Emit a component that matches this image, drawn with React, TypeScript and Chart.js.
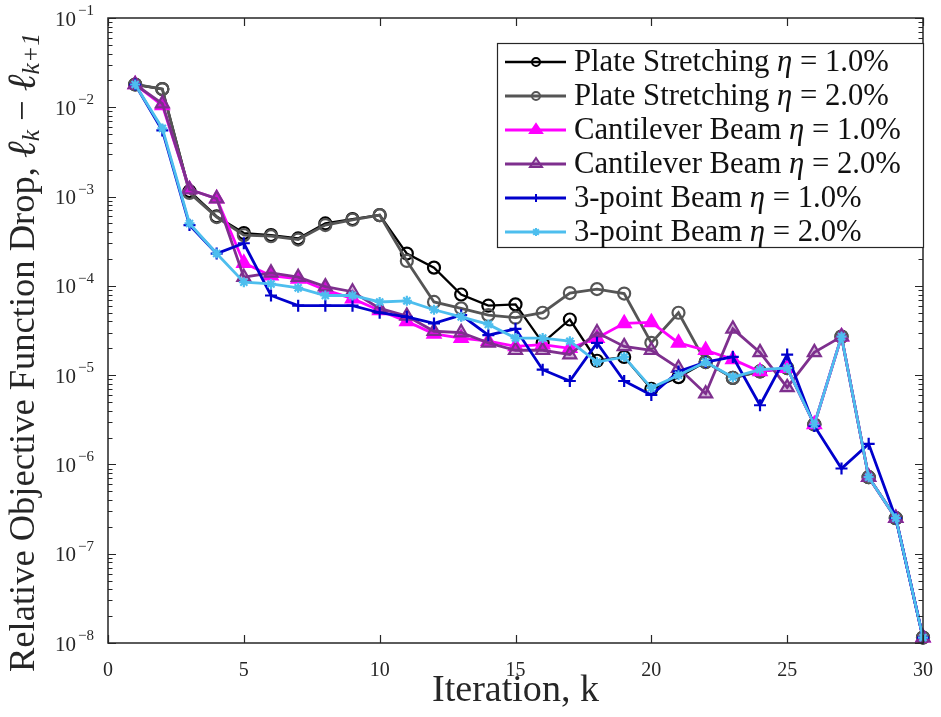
import React, { useEffect, useRef } from 'react';
import { Chart, registerables } from 'chart.js';

Chart.register(...registerables);

// ---------- data ----------
const iterations = [1, 2, 3, 4, 5, 6, 7, 8, 9, 10, 11, 12, 13, 14, 15, 16, 17, 18, 19, 20, 21, 22, 23, 24, 25, 26, 27, 28, 29, 30];

const plate1 = [1.8e-2, 1.6e-2, 1.15e-3, 6.0e-4, 3.9e-4, 3.7e-4, 3.4e-4, 5.0e-4, 5.6e-4, 6.2e-4, 2.3e-4, 1.6e-4, 8.0e-5, 6.0e-5, 6.2e-5, 2.3e-5, 4.2e-5, 1.45e-5, 1.6e-5, 7.0e-6, 9.5e-6, 1.4e-5, 9.3e-6, 1.1e-5, 1.2e-5, 2.8e-6, 2.7e-5, 7.2e-7, 2.5e-7, 1.15e-8];
const plate2 = [1.8e-2, 1.6e-2, 1.1e-3, 5.9e-4, 3.7e-4, 3.6e-4, 3.3e-4, 4.8e-4, 5.5e-4, 6.2e-4, 1.9e-4, 6.6e-5, 5.6e-5, 4.7e-5, 4.4e-5, 5.0e-5, 8.3e-5, 9.2e-5, 8.2e-5, 2.3e-5, 5.0e-5, 1.4e-5, 9.3e-6, 1.1e-5, 1.2e-5, 2.8e-6, 2.7e-5, 7.2e-7, 2.5e-7, 1.15e-8];
const cant1 = [1.8e-2, 1.05e-2, 1.2e-3, 9.5e-4, 1.8e-4, 1.3e-4, 1.2e-4, 9.0e-5, 7.2e-5, 5.3e-5, 4.0e-5, 2.9e-5, 2.6e-5, 2.4e-5, 2.1e-5, 2.2e-5, 2.0e-5, 2.6e-5, 3.8e-5, 3.9e-5, 2.3e-5, 1.9e-5, 1.5e-5, 1.1e-5, 1.2e-5, 2.8e-6, 2.7e-5, 7.2e-7, 2.5e-7, 1.15e-8];
const cant2 = [1.8e-2, 1.1e-2, 1.2e-3, 9.5e-4, 1.25e-4, 1.4e-4, 1.25e-4, 9.8e-5, 8.6e-5, 5.6e-5, 4.6e-5, 3.1e-5, 3.0e-5, 2.3e-5, 1.9e-5, 1.9e-5, 1.7e-5, 3.0e-5, 2.1e-5, 1.9e-5, 1.2e-5, 6.2e-6, 3.3e-5, 1.8e-5, 7.3e-6, 1.8e-5, 2.7e-5, 7.2e-7, 2.5e-7, 1.15e-8];
const beam1 = [1.8e-2, 5.5e-3, 4.8e-4, 2.3e-4, 3.0e-4, 7.8e-5, 6.0e-5, 6.0e-5, 6.0e-5, 5.0e-5, 4.5e-5, 3.8e-5, 4.7e-5, 2.8e-5, 3.3e-5, 1.15e-5, 8.6e-6, 2.3e-5, 8.6e-6, 6.0e-6, 1.1e-5, 1.4e-5, 1.6e-5, 4.6e-6, 1.7e-5, 2.7e-6, 9.0e-7, 1.7e-6, 2.5e-7, 1.15e-8];
const beam2 = [1.8e-2, 5.8e-3, 5.0e-4, 2.3e-4, 1.1e-4, 1.05e-4, 9.5e-5, 7.8e-5, 7.8e-5, 6.6e-5, 6.8e-5, 5.4e-5, 4.5e-5, 3.7e-5, 2.6e-5, 2.6e-5, 2.4e-5, 1.4e-5, 1.6e-5, 7.2e-6, 1.0e-5, 1.4e-5, 9.5e-6, 1.15e-5, 1.2e-5, 2.8e-6, 2.7e-5, 7.2e-7, 2.5e-7, 1.15e-8];

const seriesNames = ['Plate Stretching', 'Plate Stretching', 'Cantilever Beam', 'Cantilever Beam', '3-point Beam', '3-point Beam'];
const seriesEta = ['1.0%', '2.0%', '1.0%', '2.0%', '1.0%', '2.0%'];
const seriesValues = [plate1, plate2, cant1, cant2, beam1, beam2];

const xTicks = [0, 5, 10, 15, 20, 25, 30];
const yDecades = [-8, -7, -6, -5, -4, -3, -2, -1];
const minorMultipliers = [1, 2, 3, 4, 5, 6, 7, 8, 9];

// ---------- styles ----------
const SERIF = '"Liberation Serif", "DejaVu Serif", serif';
const AXIS = '#262626';
const colors = ['#000000', '#555555', '#ff00ff', '#7e2f8e', '#0000cc', '#4dbeee'];
const fills = ['rgba(0,0,0,0)', 'rgba(0,0,0,0)', '#ff00ff', 'rgba(126,47,142,0.35)', '#0000cc', '#4dbeee'];
const pointStyles = ['circle', 'circle', 'triangle', 'triangle', 'cross', 'star'];
const pointRadii = [6, 6, 7.5, 7.5, 6, 5];
const lineWidths = [2.3, 2.8, 2.8, 2.8, 2.8, 2.8];

type Part = { t: string; italic?: boolean; sub?: boolean; scale?: number };

function drawRich(ctx: CanvasRenderingContext2D, parts: Part[], x: number, y: number, size: number) {
  let cx = x;
  for (const p of parts) {
    const s = (p.sub ? size * 0.7 : size) * (p.scale || 1);
    ctx.font = `${p.italic ? 'italic ' : ''}${s}px ${SERIF}`;
    ctx.fillText(p.t, cx, p.sub ? y + size * 0.22 : y);
    cx += ctx.measureText(p.t).width;
  }
  return cx - x;
}

function widthOf(ctx: CanvasRenderingContext2D, text: string, size: number) {
  ctx.font = `${size}px ${SERIF}`;
  return ctx.measureText(text).width;
}

function drawMarker(ctx: CanvasRenderingContext2D, style: string, x: number, y: number, r: number, stroke: string, fill: string) {
  ctx.save();
  ctx.strokeStyle = stroke;
  ctx.fillStyle = fill;
  ctx.lineWidth = 2;
  ctx.beginPath();
  if (style === 'circle') {
    ctx.arc(x, y, r, 0, Math.PI * 2);
    ctx.fill();
    ctx.stroke();
  } else if (style === 'triangle') {
    const h = r * 1.5;
    ctx.moveTo(x, y - h * 0.66);
    ctx.lineTo(x + r, y + h * 0.34);
    ctx.lineTo(x - r, y + h * 0.34);
    ctx.closePath();
    ctx.fill();
    ctx.stroke();
  } else if (style === 'cross') {
    ctx.moveTo(x - r, y); ctx.lineTo(x + r, y);
    ctx.moveTo(x, y - r); ctx.lineTo(x, y + r);
    ctx.stroke();
  } else {
    for (let i = 0; i < 4; i++) {
      const a = (i * Math.PI) / 4;
      ctx.moveTo(x - Math.cos(a) * r, y - Math.sin(a) * r);
      ctx.lineTo(x + Math.cos(a) * r, y + Math.sin(a) * r);
    }
    ctx.stroke();
  }
  ctx.restore();
}

const decorations = {
  id: 'decorations',
  afterDraw(chart: any) {
    const { ctx, chartArea: a, scales } = chart;
    const xs = scales.x;
    const ys = scales.y;
    ctx.save();

    // frame
    ctx.strokeStyle = AXIS;
    ctx.lineWidth = 1.5;
    ctx.strokeRect(a.left, a.top, a.right - a.left, a.bottom - a.top);

    // inward ticks
    ctx.lineWidth = 1.2;
    ctx.beginPath();
    for (const v of xTicks) {
      const px = Math.round(xs.getPixelForValue(v)) + 0.5;
      ctx.moveTo(px, a.bottom); ctx.lineTo(px, a.bottom - 8);
      ctx.moveTo(px, a.top); ctx.lineTo(px, a.top + 8);
    }
    for (const d of yDecades) {
      for (const m of minorMultipliers) {
        if (d === -1 && m > 1) continue;
        const py = Math.round(ys.getPixelForValue(m * Math.pow(10, d))) + 0.5;
        const L = m === 1 ? 8 : 4.5;
        ctx.moveTo(a.left, py); ctx.lineTo(a.left + L, py);
        ctx.moveTo(a.right, py); ctx.lineTo(a.right - L, py);
      }
    }
    ctx.stroke();

    // y tick labels 10^d
    ctx.fillStyle = AXIS;
    ctx.textBaseline = 'middle';
    for (const d of yDecades) {
      const py = ys.getPixelForValue(Math.pow(10, d));
      ctx.font = `21px ${SERIF}`;
      ctx.textAlign = 'right';
      ctx.fillText('10', 76, py + 2);
      ctx.font = `15px ${SERIF}`;
      ctx.textAlign = 'left';
      ctx.fillText('\u2212' + Math.abs(d), 78, py - 7);
    }

    // x title
    const xt = 'Iteration, k';
    const xSize = 28 * 167 / widthOf(ctx, xt, 28);
    ctx.font = `${xSize}px ${SERIF}`;
    ctx.textAlign = 'center';
    ctx.textBaseline = 'middle';
    ctx.fillText(xt, (a.left + a.right) / 2, 691);

    // y title (rotated)
    const yMain = 'Relative Objective Function Drop, ';
    const ySize = 30 * 505 / widthOf(ctx, yMain.trim(), 30);
    ctx.save();
    ctx.translate(24, 672);
    ctx.rotate(-Math.PI / 2);
    ctx.textAlign = 'left';
    ctx.textBaseline = 'middle';
    drawRich(ctx, [
      { t: yMain },
      { t: '\u2113', italic: true, scale: 1.1 },
      { t: 'k', italic: true, sub: true },
      { t: ' \u2212 ' },
      { t: '\u2113', italic: true, scale: 1.1 },
      { t: 'k+1', italic: true, sub: true },
    ], 0, 0, ySize);
    ctx.restore();

    // legend
    const bx = 497, by = 43, bw = 426, bh = 204;
    ctx.fillStyle = '#ffffff';
    ctx.fillRect(bx, by, bw, bh);
    ctx.strokeStyle = AXIS;
    ctx.lineWidth = 1.2;
    ctx.strokeRect(bx + 0.5, by + 0.5, bw, bh);
    const lSize = 22 * 316 / widthOf(ctx, 'Plate Stretching \u03b7 = 1.0%', 22);
    for (let i = 0; i < 6; i++) {
      const ry = 62 + i * 34;
      ctx.strokeStyle = colors[i];
      ctx.lineWidth = lineWidths[i];
      ctx.beginPath();
      ctx.moveTo(505, ry); ctx.lineTo(566, ry);
      ctx.stroke();
      const lr = pointStyles[i] === 'circle' ? 4 : pointStyles[i] === 'triangle' ? 6 : 4;
      drawMarker(ctx, pointStyles[i], 536, ry, lr, colors[i], fills[i]);
      ctx.fillStyle = '#111111';
      ctx.textAlign = 'left';
      ctx.textBaseline = 'middle';
      drawRich(ctx, [
        { t: seriesNames[i] + ' ' },
        { t: '\u03b7', italic: true },
        { t: ' = ' + seriesEta[i] },
      ], 574, ry + 1, lSize);
    }
    ctx.restore();
  },
};

export default function App() {
  const ref = useRef<HTMLCanvasElement>(null);
  useEffect(() => {
    document.body.style.margin = '0';
    const canvas = ref.current;
    if (!canvas) return;
    const datasets = seriesValues.map((vals, i) => ({
      label: seriesNames[i] + ' \u03b7 = ' + seriesEta[i],
      data: iterations.map((k, j) => ({ x: k, y: vals[j] })),
      borderColor: colors[i],
      backgroundColor: fills[i],
      pointBackgroundColor: fills[i],
      pointBorderColor: colors[i],
      pointStyle: pointStyles[i] as any,
      pointRadius: pointRadii[i],
      pointBorderWidth: 2.2,
      borderWidth: lineWidths[i],
      tension: 0,
      fill: false,
      clip: false as any,
      order: 6 - i,
    }));
    const chart = new Chart(canvas, {
      type: 'line',
      data: { datasets },
      options: {
        animation: false,
        responsive: false,
        maintainAspectRatio: false,
        layout: { padding: { top: 18, right: 13, left: 0, bottom: 0 } },
        plugins: { legend: { display: false }, tooltip: { enabled: false } },
        scales: {
          x: {
            type: 'linear',
            min: 0,
            max: 30,
            afterBuildTicks: (s: any) => { s.ticks = xTicks.map((v) => ({ value: v })); },
            ticks: { color: AXIS, font: { family: SERIF, size: 20 }, padding: 8, maxRotation: 0, autoSkip: false },
            grid: { display: false },
            border: { display: false },
            afterFit: (s: any) => { s.height = 74; },
          },
          y: {
            type: 'logarithmic',
            min: 1e-8,
            max: 1e-1,
            ticks: { display: false },
            grid: { display: false },
            border: { display: false },
            afterFit: (s: any) => { s.width = 108; },
          },
        },
      },
      plugins: [decorations],
    });
    return () => chart.destroy();
  }, []);
  return (
    <div style={{ width: 941, height: 717 }}>
      <canvas ref={ref} width={941} height={717} style={{ display: 'block', width: 941, height: 717 }} />
    </div>
  );
}
